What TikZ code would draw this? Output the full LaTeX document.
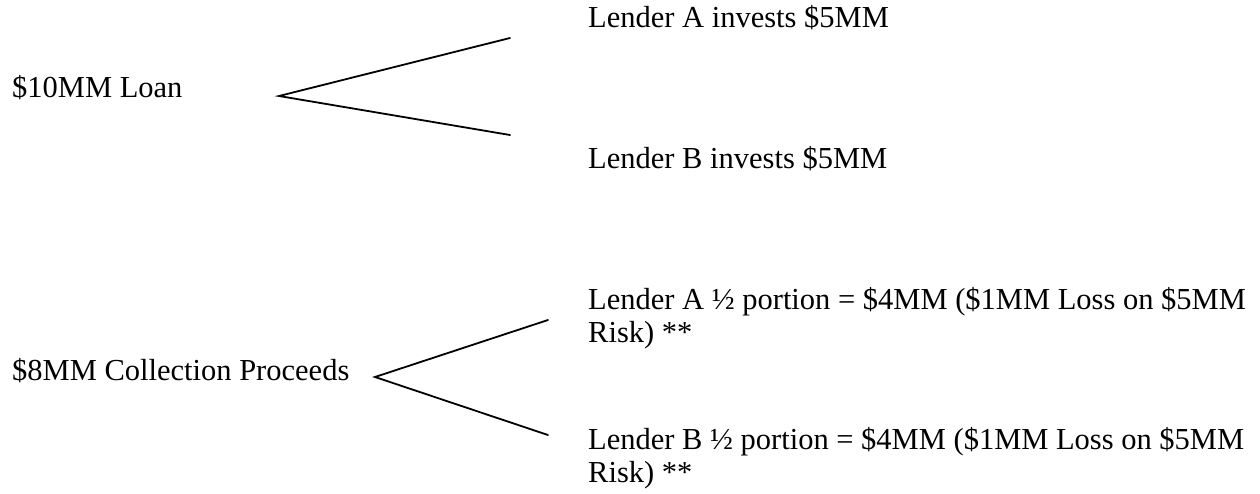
\documentclass[tikz,border=0pt]{standalone}
\usepackage{fontspec}
\setmainfont{Liberation Serif}
\usetikzlibrary{positioning}

\begin{document}
\begin{tikzpicture}[x=1pt,y=-1pt,every node/.style={font=\fontsize{30.5}{32.5}\selectfont,inner sep=0pt,anchor=base west,align=left},fork/.style={line width=1.8pt,line cap=round}]
\useasboundingbox (0,0) rectangle (1260,493);
% loan split
\node (loan) at (12,97) {\$10MM Loan};
\node (lendA) at (588,27) {Lender A invests \$5MM};
\node (lendB) at (588,168) {Lender B invests \$5MM};
\coordinate (loanfork) at (279,96);
\coordinate (loanA) at (510,38);
\coordinate (loanB) at (510,135);
\draw[fork] (loanA)--(loanfork)--(loanB);
% proceeds split (base = last line)
\node (proc) at (12,380) {\$8MM Collection Proceeds};
\node (shareA) at (588,342) {Lender A ½ portion = \$4MM (\$1MM Loss on \$5MM\\Risk) **};
\node (shareB) at (588,482) {Lender B ½ portion = \$4MM (\$1MM Loss on \$5MM\\Risk) **};
\coordinate (procfork) at (375,377);
\coordinate (procA) at (548,320);
\coordinate (procB) at (548,435);
\draw[fork] (procA)--(procfork)--(procB);
\end{tikzpicture}
\end{document}
